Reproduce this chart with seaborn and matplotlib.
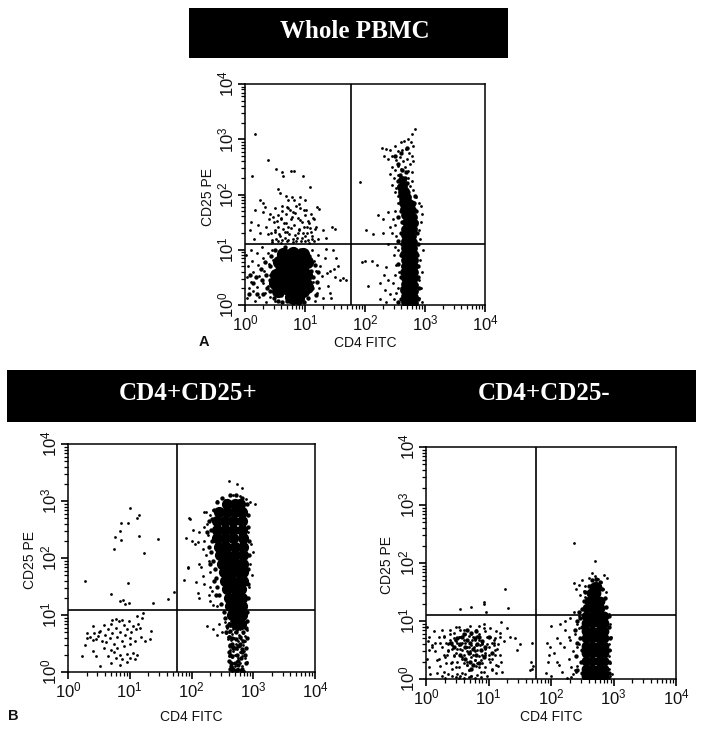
import numpy as np
import pandas as pd
import matplotlib.pyplot as plt
import seaborn as sns
from matplotlib.patches import Rectangle
from matplotlib.ticker import LogLocator, NullFormatter

sns.set_theme(style="ticks")
plt.rcParams['font.family'] = ['Liberation Sans', 'DejaVu Sans']
plt.rcParams['mathtext.fontset'] = 'custom'
plt.rcParams['mathtext.rm'] = 'Liberation Sans'
plt.rcParams['mathtext.default'] = 'regular'

# all values are log10 decades
# panel A, whole PBMC
a_dots_x = [.16,.38,.52,.62,.12,.63,.76,.82,.96,.55,1.09,.58,.68,.72,.78,.82,.92,1.0,.25,.3,.33,.5,.62,.7,.75,.85,.92,1.02,1.1,1.2,1.23,.17,.3,.42,.55,.6,.68,.78,.88,.95,1.05,1.15,.1,.22,.35,.48,.55,.65,.72,.82,.9,.98,1.08,1.18,1.3,1.45,1.5,.08,.25,.38,.5,.58,.66,.74,.8,.88,.95,1.03,1.12,1.22,1.35,.15,.45,.55,.62,.7,.85,1.0,1.05,1.15,
            .02,.05,.03,.06,.04,.1,.12,.14,.1,.13,.16,.2,.22,.24,.2,.23,.28,.3,.32,.3,.33,.35,.38,.4,.42,.38,.42,.45,.47,.48,.5,1.12,1.15,1.18,1.14,1.2,1.16,1.22,1.25,1.28,1.24,1.3,1.33,1.36,1.42,1.48,1.38,1.42,1.44,1.52,1.5,1.58,1.68,1.63,1.47,1.35,1.55,
            2.83,2.78,2.72,2.76,2.65,2.6,2.8,2.28,2.35,2.42,2.5,2.55,2.62,2.68,2.73,2.78,2.32,2.38,2.45,2.52,2.58,2.63,2.7,2.75,2.8,2.45,2.5,2.55,2.6,2.67,2.72,2.78,2.42,2.48,2.55,2.72,2.78,2.45,2.52,2.75,2.8,2.5,2.55,2.85,2.9,2.93,2.55,2.5,2.47,2.5,2.45,2.52,2.95,2.93,2.9,2.92,2.96,2.92,2.95,2.9,2.93,2.9,2.95,2.5,2.48,2.52,2.5,2.47,2.52,2.48,2.55,2.56,2.55,
            1.92,2.22,2.3,2.38,2.13,2.02,2.3,2.42,2.38,1.95,2.0,2.12,2.2,2.35,2.32,2.38,2.25,2.05,2.33,2.42,2.35,2.25,
            .45,.52,.6,.66,.72,.8,.86,.94,1.0,1.06,1.12,.44,.5,.57,.63,.7,.76,.84,.9,.97,1.04,1.1,1.17,.4,.47,.53,.6,.68,.76,.83,.92,1.0,1.07,1.13,.62,.72,.8,.9,.98]
a_dots_y = [3.1,2.63,2.47,2.4,2.33,2.33,2.42,2.42,2.33,2.1,2.13,2.02,1.98,1.9,1.95,1.9,1.95,1.9,1.9,1.85,1.78,1.75,1.8,1.78,1.72,1.8,1.75,1.72,1.65,1.78,1.73,1.72,1.68,1.65,1.62,1.55,1.65,1.6,1.58,1.5,1.52,1.55,1.5,1.45,1.42,1.5,1.42,1.48,1.42,1.45,1.38,1.42,1.4,1.42,1.35,1.42,1.38,1.35,1.3,1.28,1.32,1.25,1.33,1.28,1.2,1.3,1.22,1.3,1.25,1.2,1.22,1.2,1.18,1.15,1.18,1.15,1.16,1.15,1.18,1.15,
            .9,.7,.5,.3,.12,1.0,.8,.6,.42,.25,.08,.95,.72,.52,.32,.15,1.05,.85,.62,.4,.22,.05,.95,.75,.55,.35,.15,1.0,.82,.28,.08,1.0,.8,.62,.42,.22,.08,.9,.7,.52,.3,.12,.85,.58,.62,.65,.35,.22,.12,.85,.5,.45,.46,.48,1.0,1.02,.7,
            3.19,3.1,3.0,2.95,2.97,2.95,2.88,2.85,2.82,2.8,2.88,2.78,2.8,2.82,2.75,2.7,2.7,2.65,2.7,2.62,2.68,2.6,2.65,2.55,2.6,2.5,2.45,2.52,2.47,2.5,2.42,2.4,2.38,2.3,2.35,2.3,2.25,2.18,2.12,2.15,2.08,2.05,1.98,1.95,1.85,1.8,1.85,1.7,1.55,1.45,1.3,1.25,1.65,1.5,1.35,1.2,1.0,.82,.6,.45,.3,.12,.05,1.05,.9,.72,.55,.4,.22,.1,1.0,.6,.3,
            2.22,1.62,1.55,1.68,1.28,1.35,1.3,1.42,1.1,.78,.8,.8,.72,.68,.55,.45,.4,.35,.28,.2,.05,.1,
            1.14,1.2,1.13,1.22,1.17,1.14,1.21,1.16,1.24,1.13,1.19,1.3,1.36,1.28,1.38,1.32,1.4,1.27,1.36,1.3,1.41,1.33,1.37,1.55,1.6,1.52,1.58,1.48,1.56,1.66,1.54,1.62,1.48,1.58,1.7,1.76,1.68,1.82,1.72]
a_ring_x = [.42,.42,.42,.44,.48,.48,.5,.5,.55,.55,.56,.6,.6,.62,.66,.7,.74,.8,.82,.9,.92,.98,1.0,1.05,1.05,1.08,1.1,1.08,1.06,1.12,1.14,1.16,1.18,1.2,1.22,.35,.36,.34,.28,.26,.3,.18,.2,.14,.08,.07,
            2.6,2.62,2.6,2.63,2.6,2.62,2.6,2.62,2.6,2.6,2.88,2.9,2.88,2.89,2.87,2.88,2.87,2.85,2.85,2.82,2.83,2.58,2.56,2.55,2.58,2.66,2.7,2.72,2.68,2.62,2.55,2.5,2.6,2.7,2.55,2.55,2.55,2.55]
a_ring_y = [.25,.45,.7,.88,.12,.6,.8,1.0,.08,.25,.9,.18,.98,.05,1.05,.08,.98,.04,1.02,.03,1.0,.06,.95,.12,.28,.42,.62,.75,.88,.3,.5,.72,.18,.42,.6,.55,.3,.78,.45,.65,.2,.5,.2,.4,.55,.2,
            .1,.3,.5,.7,.9,1.1,1.3,1.5,1.7,1.88,.1,.3,.5,.7,.9,1.1,1.3,1.5,1.7,1.85,1.98,2.0,2.15,2.25,2.35,2.3,2.2,2.05,2.4,2.45,2.55,2.7,2.75,2.85,.05,.75,1.15,1.6]
a_mid_x = [2.66,2.74,2.82,2.67,2.75,2.81,2.65,2.73,2.82,2.66,2.76,2.81,2.67,2.74,2.82,2.65,2.75,2.81,2.66,2.74,2.82,2.67,2.76,2.81,2.65,2.74,2.81,2.66,2.75,2.8,2.67,2.74,2.8,2.66,2.73,2.79,2.67,2.74,2.8,2.68,2.76,2.81,2.66,2.73,2.8,2.65,2.72,2.79,2.64,2.72,2.77,2.64,2.7,2.62,2.67,2.6,2.64,2.62]
a_mid_y = [.05,.06,.04,.16,.17,.15,.27,.28,.26,.38,.39,.37,.49,.5,.48,.6,.61,.59,.71,.72,.7,.82,.83,.81,.93,.94,.92,1.04,1.05,1.03,1.15,1.16,1.14,1.26,1.27,1.25,1.38,1.4,1.37,1.5,1.52,1.49,1.62,1.64,1.6,1.74,1.75,1.72,1.84,1.86,1.83,1.94,1.96,2.04,2.06,2.14,2.16,2.26]
a_big_x = [.6,.6,.68,.68,.68,.7,.76,.78,.78,.78,.8,.88,.88,.88,.88,.88,.97,.98,.97,.96,.52,.5,1.02,.55,.56,1.04,1.04,.64,.96,.8]
a_big_y = [.45,.62,.3,.47,.65,.82,.14,.3,.48,.66,.85,.12,.3,.48,.66,.85,.25,.42,.6,.78,.55,.4,.55,.25,.78,.32,.78,.92,.92,.95]

# panel B, CD4+CD25+
b_dots_x = [1.0,1.15,1.11,.97,.86,.85,.76,.86,.74,1.15,1.46,1.23,.27,.97,.69,.84,.89,.92,.98,1.38,1.62,1.71,
            .23,.3,.28,.3,.35,.4,.42,.4,.45,.48,.5,.55,.52,.58,.6,.62,.65,.68,.7,.72,.75,.78,.8,.82,.85,.88,.9,.92,.95,.98,1.0,1.02,1.05,1.08,1.1,1.13,1.16,1.18,1.2,1.22,1.12,.72,.78,.88,1.0,1.35,1.25,1.32,.58,.7,.75,.8,.85,.9,.78,.88,.95,1.05,1.08,1.12,.7,.85,.65,.52,.95,1.0,.45,.4,
            2.6,2.73,2.82,2.42,2.5,2.55,2.68,2.78,2.88,2.95,3.03,2.35,2.3,2.25,2.92,2.96,3.0,2.95,2.98,2.93,
            1.96,1.97,2.2,2.23,2.03,2.12,1.91,2.0,2.05,2.1,2.2,2.18,2.12,2.15,1.95,1.95,1.88,2.07,2.18,2.2,2.1,2.12,2.3,2.28,2.3,2.35,2.42,2.25,2.35,2.45,2.42,2.5,2.2,2.26,2.24,2.28,2.3,2.33,
            2.55,2.6,2.64,2.7,2.76,2.82,2.88,2.58,2.62,2.67,2.73,2.79,2.85,2.9,2.56,2.61,2.66,2.71,2.77,2.83,2.87,2.59,2.64,2.69,2.75,2.8,2.86,2.62,2.67,2.72,2.78,2.84,2.63,2.68,2.74,2.79,2.85,2.6,2.65,2.7,2.76,2.81,2.87,2.62,2.68,2.73,2.78,2.9,2.66,2.71,2.76,2.82,2.68,2.74,2.8,2.65,2.72,2.78,2.85,2.7,2.75,2.83]
b_dots_y = [2.88,2.76,2.7,2.61,2.61,2.47,2.37,2.31,2.16,2.39,2.33,2.09,1.59,1.56,1.37,1.24,1.27,1.2,1.21,1.21,1.28,1.41,
            .28,.6,.47,.68,.62,.56,.68,.8,.58,.63,.7,.55,.72,.82,.65,.52,.75,.6,.85,.68,.5,.78,.62,.9,.7,.55,.82,.65,.75,.9,.6,.7,.8,.55,.75,.85,.78,.62,.95,1.03,.98,.92,.93,.92,.5,.72,.55,.58,.42,.38,.35,.42,.3,.45,.25,.22,.32,.33,.22,.3,.15,.12,.28,.1,.18,.25,.28,.36,
            3.35,3.3,3.22,3.0,3.05,3.02,3.1,3.08,3.03,2.98,2.95,2.85,2.75,2.6,2.45,2.25,2.1,1.9,1.7,1.5,
            2.7,2.68,2.8,2.8,2.5,2.45,2.35,2.3,2.25,2.28,2.3,2.15,1.9,1.85,1.85,1.82,1.62,1.58,1.68,1.55,1.38,1.3,1.5,1.35,1.25,1.18,1.15,.8,.75,.85,.65,.7,2.55,2.4,2.05,1.95,1.75,1.42,
            .88,.86,.9,.85,.88,.84,.87,.78,.8,.76,.79,.75,.8,.74,.68,.7,.66,.7,.65,.68,.64,.58,.56,.6,.55,.58,.54,.48,.46,.5,.45,.47,.38,.36,.4,.35,.37,.28,.26,.3,.25,.28,.24,.18,.16,.2,.15,.17,.08,.1,.06,.1,.03,.05,.02,.01,.02,.04,.01,.03,.05,.02]
b_ring_x = [2.33,2.32,2.35,2.38,2.4,2.42,2.45,2.48,2.52,2.55,2.32,2.33,2.36,2.42,2.5,2.62,2.72,2.82,2.9,2.92,2.92,2.93,2.93,2.92,2.92,2.92,2.9,2.9,2.6,2.62,2.68,2.74,2.84,2.6,2.66,2.72,2.78,2.84,2.62,2.68,2.76,2.82,2.66,2.74,2.8,2.7,2.76,2.68,2.74,2.82,2.25,2.28,2.3,2.36,2.4,2.28,
            2.58,2.6,2.62,2.56,2.6,2.6,2.64,2.62,2.88,2.9,2.88,2.86,2.88,2.62,2.66,2.72,2.78,2.64,2.7,2.76,2.82]
b_ring_y = [2.3,2.1,1.95,1.8,1.65,1.5,1.35,1.2,1.05,.95,2.5,2.68,2.85,2.98,3.05,3.1,3.1,3.05,2.95,2.75,2.55,2.3,2.05,1.8,1.55,1.3,1.05,.9,.85,.72,.8,.75,.7,.62,.6,.58,.62,.55,.45,.42,.45,.4,.28,.3,.25,.15,.12,.05,.03,.06,2.45,2.2,1.9,1.6,1.35,2.65,
            .8,.62,.48,.7,.35,.2,.1,.05,.78,.6,.42,.3,.15,.3,.5,.7,.5,.15,.42,.2,.35]
b_big_x = [2.58,2.7,2.78,2.45,2.58,2.7,2.82,2.42,2.55,2.68,2.82,2.42,2.55,2.68,2.82,2.42,2.55,2.68,2.83,2.44,2.56,2.7,2.83,2.46,2.58,2.7,2.83,2.5,2.62,2.74,2.84,2.52,2.64,2.76,2.84,2.55,2.66,2.78,2.84,2.58,2.7,2.8,2.6,2.72,2.82,2.63,2.74,2.82,2.66,2.76,2.82,2.72,2.8]
b_big_y = [2.95,2.95,2.95,2.8,2.8,2.8,2.8,2.65,2.65,2.65,2.65,2.5,2.5,2.5,2.5,2.35,2.35,2.35,2.35,2.2,2.2,2.2,2.2,2.05,2.05,2.05,2.05,1.9,1.9,1.9,1.9,1.75,1.75,1.75,1.75,1.6,1.6,1.6,1.6,1.45,1.45,1.45,1.3,1.3,1.3,1.15,1.15,1.15,1.0,1.0,1.0,.85,.85]

# panel C, CD4+CD25-
c_dots_x = [.92,.92,1.27,1.31,.72,.55,.96,2.37,2.7,.02,.04,.03,.05,.02,.04,.06,.12,.15,.2,.25,.28,.32,.35,.38,.42,.45,.48,.5,.52,.55,.58,.6,.62,.65,.68,.7,.72,.75,.78,.8,.82,.85,.88,.9,.92,.95,.98,1.0,1.02,1.05,1.08,1.1,1.12,1.15,1.18,1.2,1.25,1.3,1.35,1.42,1.45,1.5,
            .18,.22,.28,.3,.35,.4,.42,.45,.5,.52,.55,.58,.62,.65,.68,.7,.72,.78,.8,.85,.88,.9,.95,1.0,1.05,1.1,1.12,1.2,1.22,
            .1,.18,.25,.3,.35,.42,.48,.5,.52,.55,.6,.62,.68,.72,.78,.82,.88,.92,.98,1.05,1.12,1.15,
            .48,.52,.55,.58,.6,.65,.7,.75,.8,.85,.9,.95,1.02,.35,.42,.28,.45,.6,.68,.78,.88,.95,1.08,1.18,.58,.65,.72,.82,.38,.48,.72,.85,
            1.7,1.68,1.69,1.67,1.71,
            2.37,2.4,2.45,2.5,2.55,2.6,2.65,2.7,2.75,2.8,2.85,2.9,2.46,2.52,2.58,2.62,2.68,2.72,2.78,2.83,2.88,2.55,2.62,2.67,2.72,2.78,2.85,2.62,2.7,2.76,2.82,2.68,2.74,2.8,
            2.1,1.98,1.97,2.1,2.12,2.22,2.28,2.15,2.05,1.95,1.92,2.0,2.18,2.25,2.32,2.35,2.38,2.42,2.28,2.35,2.4,2.45,2.3,2.42,2.38,2.45,2.2,2.32,2.4,2.14,2.22,2.0,1.93,2.3,2.44,2.36,2.42,
            2.92,2.94,2.96,2.93,2.95,2.92,2.94,2.93,2.97,2.95,2.93,
            .1,.15,.22,.28,.33,.38,.42,.46,.5,.54,.58,.62,.66,.7,.74,.78,.82,.86,.9,.94,.98,1.02,1.06,1.1,1.14,1.18,.2,.26,.32,.37,.44,.48,.52,.6,.68,.76,.84,.92,1.0,1.08]
c_dots_y = [1.3,1.33,1.55,1.22,1.25,1.2,1.15,2.34,2.03,.9,.72,.65,.5,.35,.2,.08,.82,.62,.72,.55,.42,.62,.5,.68,.58,.8,.45,.62,.72,.52,.38,.85,.62,.48,.75,.92,.58,.42,.68,.85,.5,.78,.32,.62,.95,.45,.72,.55,.88,.35,.68,.5,.82,.6,.42,.98,.65,.88,.72,.7,.5,.6,
            .32,.22,.12,.38,.48,.28,.18,.4,.3,.2,.42,.1,.35,.25,.15,.45,.05,.32,.22,.4,.12,.28,.2,.35,.15,.42,.25,.3,.12,
            .55,.1,.05,.02,.08,.05,.03,.08,.02,.05,.02,.09,.03,.06,.02,.07,.03,.12,.06,.18,.1,.22,
            .65,.58,.72,.5,.68,.55,.62,.72,.58,.68,.6,.52,.72,.6,.52,.75,.7,.42,.55,.48,.5,.42,.58,.8,.35,.3,.38,.28,.85,.9,.78,.92,
            .62,.3,.18,.15,.22,
            1.65,1.55,1.62,1.7,1.6,1.75,1.82,1.78,1.72,1.68,1.8,1.75,1.45,1.52,1.5,1.6,1.65,1.68,1.6,1.55,1.5,1.42,1.48,1.5,1.45,1.4,1.38,1.3,1.25,1.32,1.22,1.15,1.18,1.2,
            .7,.55,.42,.3,.25,.85,.72,.62,.45,.3,.1,.05,.12,.02,.03,.08,.15,.22,.35,.48,.4,.6,.68,.55,.78,.88,.55,.2,.12,.95,1.0,.92,.62,1.05,1.08,1.15,.95,
            1.12,.95,.72,.6,.5,.4,.28,.18,.08,.05,.02,
            .58,.48,.62,.72,.42,.78,.3,.68,.52,.85,.62,.78,.25,.48,.68,.32,.75,.58,.42,.82,.6,.3,.62,.7,.52,.72,.35,.85,.28,.62,.42,.2,.9,.28,.15,.55,.2,.88,.42,.62]
c_ring_x = [.5,.55,.6,.62,.65,.68,.7,.72,.75,.78,.8,.82,.85,.88,.9,.92,.62,.7,.75,.8,.55,.45,.4,.95,1.0,1.05,.65,.58,.72,.85,
            2.5,2.48,2.5,2.46,2.5,2.46,2.5,2.52,2.55,2.6,2.66,2.72,2.78,2.82,2.86,2.88,2.92,2.93,2.94,2.92,2.93,2.92,2.42,2.4,2.42,2.38,2.42,2.44]
c_ring_y = [.7,.6,.78,.55,.68,.45,.62,.8,.52,.7,.42,.6,.72,.5,.65,.38,.35,.3,.25,.82,.42,.55,.62,.55,.72,.45,.85,.72,.18,.28,
            .1,.3,.5,.7,.9,1.05,1.2,1.35,1.5,1.6,1.7,1.72,1.68,1.55,1.4,1.25,1.08,.9,.7,.5,.3,.1,.15,.4,.62,.85,1.0,1.15]
c_big_x = [2.56,2.66,2.76,2.84,2.56,2.66,2.76,2.84,2.56,2.66,2.76,2.84,2.56,2.66,2.76,2.84,2.56,2.66,2.76,2.84,2.56,2.66,2.76,2.84,2.56,2.66,2.76,2.84,2.56,2.66,2.76,2.84,2.56,2.66,2.76,2.84,2.58,2.68,2.78,2.6,2.7,2.78,2.64,2.72,2.68,2.74]
c_big_y = [.05,.05,.05,.05,.18,.18,.18,.18,.31,.31,.31,.31,.44,.44,.44,.44,.57,.57,.57,.57,.7,.7,.7,.7,.83,.83,.83,.83,.96,.96,.96,.96,1.09,1.09,1.09,1.09,1.22,1.22,1.22,1.35,1.35,1.35,1.48,1.48,1.58,1.58]

gate_x = [1.77, 1.77, 1.76]
gate_y = [1.11, 1.09, 1.11]
header_titles = ['Whole PBMC', 'CD4+CD25+', 'CD4+CD25-']


def cloud(ax, xs, ys, size):
    df = pd.DataFrame({'cd4': 10.0 ** np.array(xs), 'cd25': 10.0 ** np.array(ys)})
    sns.scatterplot(data=df, x='cd4', y='cd25', ax=ax, s=size, color='black',
                    linewidth=0, legend=False)


def flow_panel(box, layers, gx, gy, xlab_y):
    left, top, right, bottom = box
    ax = fig.add_axes([left / W, 1 - bottom / H, (right - left) / W, (bottom - top) / H])
    ax.set_xscale('log')
    ax.set_yscale('log')
    for xs, ys, size in layers:
        cloud(ax, xs, ys, size)
    ax.set_xlim(1, 1e4)
    ax.set_ylim(1, 1e4)
    ax.axvline(10 ** gx, color='black', lw=1.2)
    ax.axhline(10 ** gy, color='black', lw=1.2)
    ax.set_xlabel('CD4 FITC', fontsize=10, color='#111111')
    ax.set_ylabel('CD25 PE', fontsize=10, color='#111111')
    ax.xaxis.set_label_coords(.5, xlab_y)
    ax.yaxis.set_label_coords(-.127, .49)
    for axis in (ax.xaxis, ax.yaxis):
        axis.set_major_locator(LogLocator(base=10, numticks=10))
        axis.set_minor_locator(LogLocator(base=10, subs=range(2, 10), numticks=20))
        axis.set_minor_formatter(NullFormatter())
    ax.xaxis.set_tick_params(which='both', bottom=True, direction='out', color='black')
    ax.yaxis.set_tick_params(which='both', left=True, direction='out', color='black')
    ax.tick_params(axis='both', which='major', length=5, width=1.2, labelsize=12, pad=1, labelcolor='#111111')
    ax.tick_params(axis='both', which='minor', length=3, width=.9)
    ax.tick_params(axis='y', labelrotation=90)
    for t in ax.get_yticklabels():
        t.set_va('center')
    for s in ax.spines.values():
        s.set_linewidth(1.1)
        s.set_color('black')
    return ax


W, H = 701, 730
fig = plt.figure(figsize=(W / 100, H / 100), dpi=100)

for (x0, y0, x1, y1) in [(189, 8, 508, 58), (7, 370, 696, 422)]:
    fig.add_artist(Rectangle((x0 / W, 1 - y1 / H), (x1 - x0) / W, (y1 - y0) / H,
                             transform=fig.transFigure, color='black', lw=0))

for title, cx, cy in zip(header_titles, [355, 188, 544], [31, 394, 394]):
    fig.text(cx / W, 1 - cy / H, title, color='white', fontsize=18, fontweight='bold',
             family='Liberation Serif', ha='center', va='center')

flow_panel((245, 84, 485, 305),
           [(a_dots_x, a_dots_y, 4), (a_ring_x, a_ring_y, 10), (a_mid_x, a_mid_y, 40), (a_big_x, a_big_y, 90)],
           gate_x[0], gate_y[0], -.14)
flow_panel((68, 444, 315, 672),
           [(b_dots_x, b_dots_y, 4), (b_ring_x, b_ring_y, 10), (b_big_x, b_big_y, 65)],
           gate_x[1], gate_y[1], -.167)
flow_panel((426, 447, 676, 679),
           [(c_dots_x, c_dots_y, 4), (c_ring_x, c_ring_y, 10), (c_big_x, c_big_y, 50)],
           gate_x[2], gate_y[2], -.134)

fig.text(204 / W, 1 - 342 / H, 'A', fontsize=10.5, fontweight='bold', color='#111111', ha='center', va='center')
fig.text(13 / W, 1 - 716 / H, 'B', fontsize=10.5, fontweight='bold', color='#111111', ha='center', va='center')

fig.savefig('out.png', dpi=100)
